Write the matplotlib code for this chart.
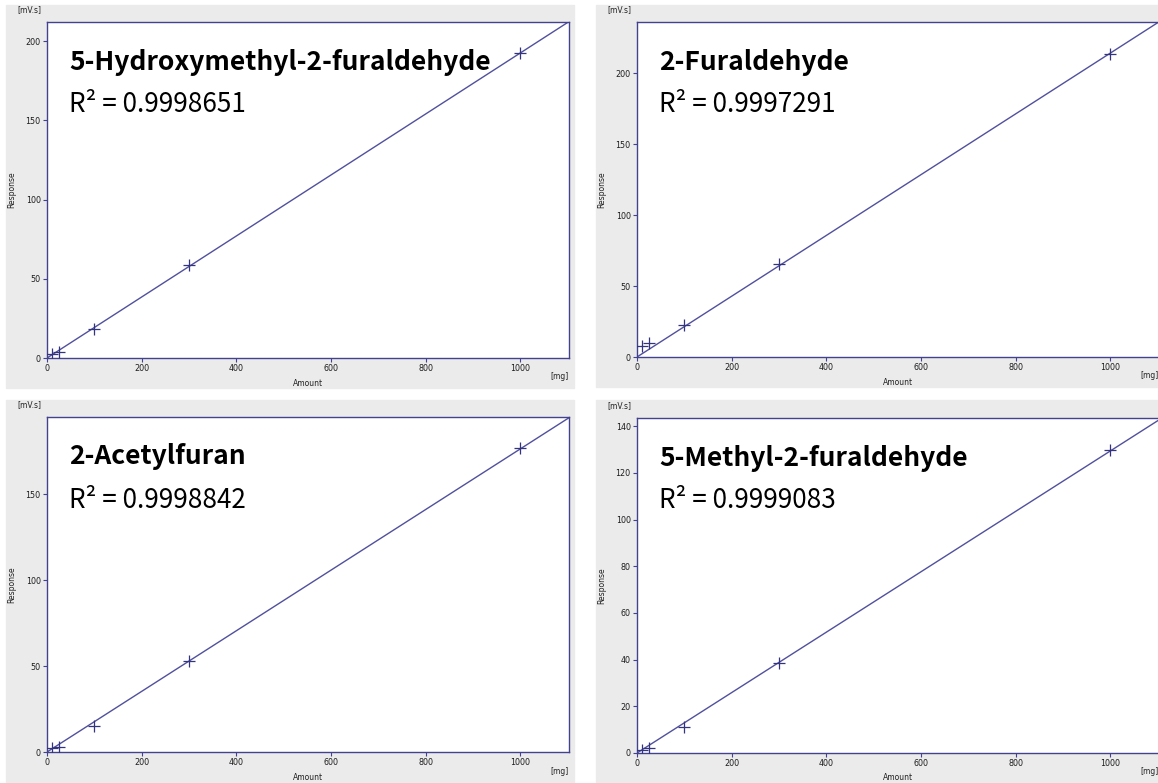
import numpy as np
import matplotlib
matplotlib.use("Agg")
import matplotlib.pyplot as plt
from matplotlib.patches import Rectangle

W, H = 1158, 783

# 标样进样量 (mg) 与各组分的峰面积响应 (mV.s)
amount = [10, 25, 100, 300, 1000]
names = ["5-Hydroxymethyl-2-furaldehyde", "2-Furaldehyde",
         "2-Acetylfuran", "5-Methyl-2-furaldehyde"]
r2_text = ["0.9998651", "0.9997291", "0.9998842", "0.9999083"]
resp_hmf = [2.8, 3.6, 18.2, 58.6, 192.3]
resp_furfural = [7.7, 9.9, 22.5, 65.5, 213.4]
resp_acetyl = [2.3, 2.9, 15.1, 52.9, 176.7]
resp_methyl = [1.3, 2.1, 11.1, 38.4, 129.7]
responses = [resp_hmf, resp_furfural, resp_acetyl, resp_methyl]
x_ticks = [0, 200, 400, 600, 800, 1000]
y_ticks = [[0, 50, 100, 150, 200], [0, 50, 100, 150, 200],
           [0, 50, 100, 150], [0, 20, 40, 60, 80, 100, 120, 140]]
x_max = 1103
y_max = [212, 236, 195, 143.5]

blue = "#42428f"
line_c = "#50509e"
grey = "#ebebeb"

# 每个子图: 灰色底板 (x0, y0, x1, y1) 和坐标轴 (left, top, right, bottom), 单位像素
panels = [(6, 5, 574, 388), (596, 5, 1158, 387),
          (6, 400, 574, 782), (596, 400, 1158, 782)]
boxes = [(47, 22, 569, 358), (637, 22, 1159, 357),
         (47, 417, 569, 752), (637, 418, 1159, 753)]

fig = plt.figure(figsize=(W / 100, H / 100), dpi=100)
fig.patch.set_facecolor("white")


def fx(px):
    return px / W


def fy(py):
    return 1 - py / H


for i in range(4):
    x0, y0, x1, y1 = panels[i]
    fig.patches.append(Rectangle((fx(x0), fy(y1)), fx(x1 - x0), (y1 - y0) / H,
                                 transform=fig.transFigure, color=grey, zorder=-5))
    l, t, r, b = boxes[i]
    ax = fig.add_axes([fx(l), fy(b), fx(r - l), (b - t) / H])
    ax.set_facecolor("white")
    x = np.array(amount, dtype=float)
    y = np.array(responses[i])
    k = np.sum(x * y) / np.sum(x * x)  # 过原点线性回归
    xx = np.array([0, x_max])
    ax.plot(xx, k * xx, color=line_c, lw=1.0, zorder=2)
    ax.plot(x, y, linestyle="none", marker="+", ms=9, mew=0.9,
            color="#33337f", zorder=3)
    ax.set_xlim(0, x_max)
    ax.set_ylim(0, y_max[i])
    ax.set_xticks(x_ticks)
    ax.set_yticks(y_ticks[i])
    for s in ax.spines.values():
        s.set_color(blue)
        s.set_linewidth(1.0)
    ax.tick_params(direction="out", length=3, width=0.8, color=blue,
                   labelsize=5.8, pad=1.5, labelcolor="#1e1e1e")

    # 单位和坐标轴标题
    fig.text(fx(l - 6), fy(t - 12), "[mV.s]", fontsize=5.5, ha="right",
             va="center", color="#222222")
    fig.text(fx(l - 35), fy((t + b) / 2), "Response", fontsize=5.5,
             rotation=90, ha="center", va="center", color="#222222")
    fig.text(fx(l + 261), fy(b + 25), "Amount", fontsize=5.5,
             ha="center", va="center", color="#222222")
    fig.text(fx(l + 522), fy(b + 19), "[mg]", fontsize=5.5,
             ha="right", va="center", color="#222222")

    # 组分名称和相关系数
    fig.text(fx(l + 22), fy(t + 40), names[i], fontsize=19, fontweight="bold",
             family=["Noto Sans CJK SC", "DejaVu Sans"], ha="left", va="center")
    fig.text(fx(l + 22), fy(t + 83), "R² = " + r2_text[i], fontsize=18.8,
             family=["Noto Sans CJK SC", "DejaVu Sans"], ha="left", va="center")

fig.savefig("out.png", dpi=100)
